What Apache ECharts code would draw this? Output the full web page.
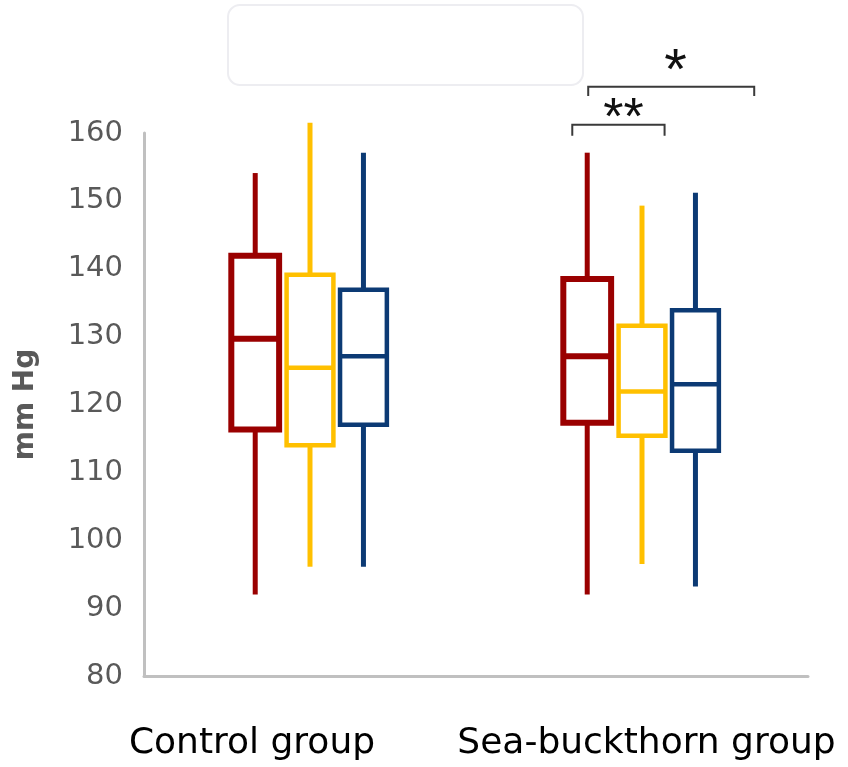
<!DOCTYPE html>
<html>
<head>
<meta charset="utf-8">
<script src="https://cdn.jsdelivr.net/npm/echarts@6/dist/echarts.min.js"></script>
<style>
  html, body { margin: 0; padding: 0; background: #fff; }
  #chart { width: 848px; height: 767px; }
</style>
</head>
<body>
<div id="chart"></div>
<script>
// categories on the x axis
const categories = ["Control group", "Sea-buckthorn group"];

// box values per group: [min, q1, median, q3, max]
const redBoxes = [
  [92.0, 116.3, 129.7, 141.9, 154.1],
  [92.0, 117.3, 127.1, 138.5, 157.1]
];
const yellowBoxes = [
  [96.1, 114.0, 125.4, 139.1, 161.5],
  [96.5, 115.4, 121.9, 131.6, 149.3]
];
const blueBoxes = [
  [96.1, 117.0, 127.1, 136.9, 157.1],
  [93.2, 113.2, 123.0, 133.9, 151.2]
];

// significance brackets (in data units, x as fraction of category band)
const bracketCat = [1, 1];
const bracketFrom = [-0.162, -0.21];
const bracketTo = [0.338, 0.068];
const bracketTop = [166.8, 161.2];
const bracketFoot = [165.45, 159.6];
const bracketMarks = ["*", "**"];
const bracketMarkX = [0.101, -0.056];
const bracketMarkY = [168.9, 161.9];

const yTicks = [80, 90, 100, 110, 120, 130, 140, 150, 160];

function toRows(boxes) {
  return boxes.map((b, i) => [i].concat(b));
}

function boxRenderer(offset, width, color, boxLw, whiskerLw) {
  return function (params, api) {
    const cat = api.value(0);
    const band = api.size([1, 0])[0];
    const cx = api.coord([cat, 0])[0] + offset * band;
    const half = (width * band) / 2;
    const p = [1, 2, 3, 4, 5].map(i => api.coord([cat, api.value(i)])[1]);
    return {
      type: "group",
      children: [
        { type: "line", shape: { x1: cx, y1: p[0], x2: cx, y2: p[1] }, style: { stroke: color, lineWidth: whiskerLw } },
        { type: "line", shape: { x1: cx, y1: p[3], x2: cx, y2: p[4] }, style: { stroke: color, lineWidth: whiskerLw } },
        { type: "rect", shape: { x: cx - half, y: p[3], width: half * 2, height: p[1] - p[3] }, style: { fill: "#fff", stroke: color, lineWidth: boxLw } },
        { type: "line", shape: { x1: cx - half, y1: p[2], x2: cx + half, y2: p[2] }, style: { stroke: color, lineWidth: boxLw } }
      ]
    };
  };
}

function bracketRenderer(params, api) {
  const i = params.dataIndex;
  const cat = api.value(0);
  const band = api.size([1, 0])[0];
  const c = api.coord([cat, 0])[0];
  const x1 = c + bracketFrom[i] * band;
  const x2 = c + bracketTo[i] * band;
  const yTop = api.coord([cat, bracketTop[i]])[1];
  const yFoot = api.coord([cat, bracketFoot[i]])[1];
  const yMark = api.coord([cat, bracketMarkY[i]])[1];
  return {
    type: "group",
    children: [
      {
        type: "polyline",
        shape: { points: [[x1, yFoot], [x1, yTop], [x2, yTop], [x2, yFoot]] },
        style: { stroke: "#3a3a3a", lineWidth: 2, fill: null }
      },
      {
        type: "text",
        style: {
          text: bracketMarks[i],
          x: c + bracketMarkX[i] * band,
          y: yMark,
          fill: "#111",
          font: (bracketMarks[i].length > 1 ? "52px" : "58px") + " 'Liberation Sans'",
          textAlign: "center",
          textVerticalAlign: "middle"
        }
      }
    ]
  };
}

const chart = echarts.init(document.getElementById("chart"));

const option = {
  animation: false,
  backgroundColor: "#fff",
  graphic: [
    {
      type: "rect",
      shape: { x: 228, y: 5, width: 355, height: 80, r: 12 },
      style: { fill: "#fff", stroke: "#ededf1", lineWidth: 2 }
    }
  ],
  grid: { left: 144, right: 40, top: 133, bottom: 91 },
  xAxis: {
    type: "category",
    data: categories,
    axisLine: { lineStyle: { color: "#c0c0c0", width: 3 } },
    axisTick: { show: false },
    axisLabel: {
      margin: 50,
      formatter: (v, idx) => (idx === 0 ? "{a|" + v + "}" : "{b|" + v + "}"),
      rich: {
        a: { fontFamily: "DejaVu Sans", fontSize: 36, color: "#000", padding: [0, 116, 0, 0] },
        b: { fontFamily: "DejaVu Sans", fontSize: 36, color: "#000", padding: [0, 0, 0, 9] }
      }
    }
  },
  yAxis: {
    type: "value",
    min: yTicks[0],
    max: yTicks[yTicks.length - 1],
    interval: 10,
    name: "mm Hg",
    nameLocation: "middle",
    nameRotate: 90,
    nameGap: 104,
    nameTextStyle: { fontFamily: "DejaVu Sans", fontWeight: "bold", fontSize: 28, color: "#595959" },
    axisLine: { show: true, lineStyle: { color: "#c0c0c0", width: 3 } },
    axisTick: { show: false },
    splitLine: { show: false },
    axisLabel: { fontFamily: "DejaVu Sans", fontSize: 29, color: "#595959", margin: 21 }
  },
  series: [
    {
      type: "custom",
      name: "red",
      data: toRows(redBoxes),
      encode: { x: 0, y: [1, 2, 3, 4, 5] },
      renderItem: boxRenderer(-0.165, 0.144, "#9a0000", 6, 5),
      z: 3
    },
    {
      type: "custom",
      name: "yellow",
      data: toRows(yellowBoxes),
      encode: { x: 0, y: [1, 2, 3, 4, 5] },
      renderItem: boxRenderer(0, 0.141, "#ffc000", 4.5, 5),
      z: 2
    },
    {
      type: "custom",
      name: "blue",
      data: toRows(blueBoxes),
      encode: { x: 0, y: [1, 2, 3, 4, 5] },
      renderItem: boxRenderer(0.161, 0.141, "#0c3a74", 4.5, 5),
      z: 2
    },
    {
      type: "custom",
      name: "brackets",
      data: bracketCat.map((c, i) => [c, bracketTop[i]]),
      encode: { x: 0, y: 1 },
      renderItem: bracketRenderer,
      z: 4
    }
  ]
};

chart.setOption(option);
</script>
</body>
</html>
